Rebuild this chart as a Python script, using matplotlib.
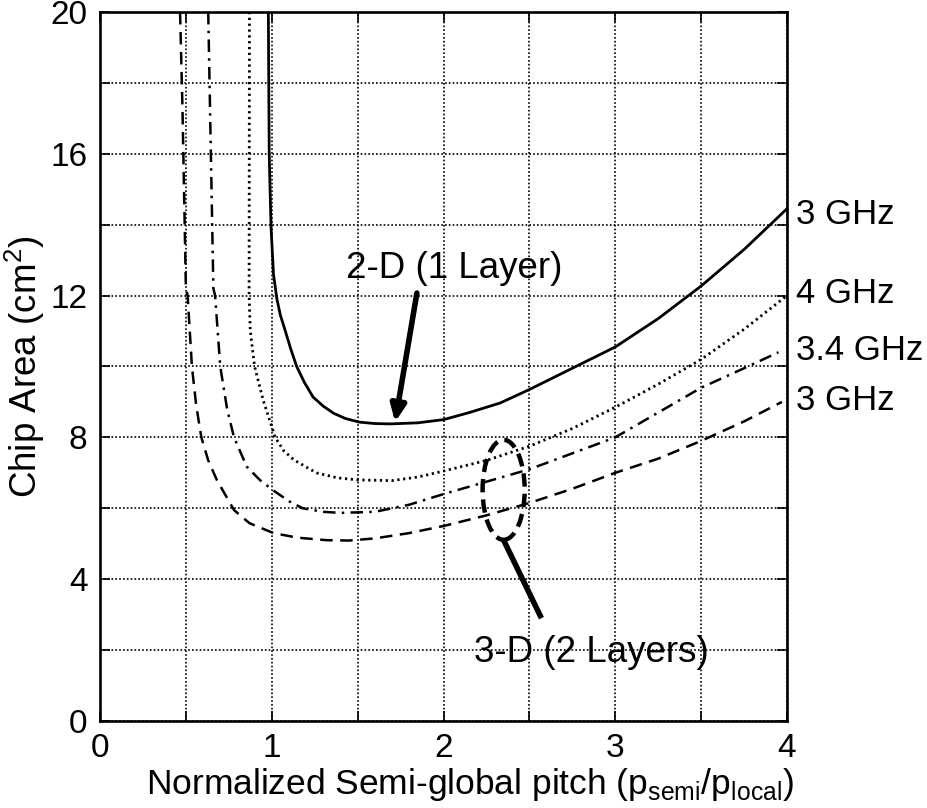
import numpy as np
import matplotlib.pyplot as plt
from matplotlib.patches import Ellipse

plt.rcParams['font.family'] = ['Liberation Sans', 'DejaVu Sans']

# 2-D, 1 layer, 3 GHz (solid)
x_2d_3 = [0.98, 0.985, 0.99, 0.996, 1.01, 1.03, 1.05, 1.077, 1.11, 1.145, 1.19, 1.24, 1.3, 1.36,
          1.43, 1.51, 1.6, 1.69, 1.85, 2.0, 2.15, 2.33, 2.5, 2.75, 3.0, 3.25, 3.5, 3.75, 4.0]
y_2d_3 = [20.0, 16.0, 15.0, 13.9, 12.6, 11.9, 11.45, 11.03, 10.5, 10.0, 9.55, 9.14, 8.88, 8.68,
          8.53, 8.43, 8.39, 8.38, 8.41, 8.5, 8.7, 8.97, 9.35, 9.95, 10.55, 11.35, 12.27, 13.3, 14.45]

# 3-D, 2 layers, 4 GHz (dotted)
x_3d_4 = [0.87, 0.868, 0.875, 0.9, 0.95, 1.02, 1.07, 1.13, 1.26, 1.38, 1.5, 1.7, 1.85, 2.0,
          2.25, 2.5, 2.75, 3.0, 3.25, 3.5, 3.75, 4.0]
y_3d_4 = [20.0, 12.0, 11.0, 10.0, 9.05, 8.0, 7.62, 7.36, 7.0, 6.86, 6.8, 6.78, 6.88, 7.05,
          7.35, 7.75, 8.25, 8.85, 9.5, 10.2, 11.05, 12.0]

# 3-D, 2 layers, 3.4 GHz (dash-dot)
x_3d_34 = [0.63, 0.66, 0.67, 0.70, 0.74, 0.78, 0.855, 0.93, 1.01, 1.1, 1.18, 1.3, 1.4, 1.6,
           1.8, 2.0, 2.25, 2.5, 2.75, 3.0, 3.25, 3.5, 3.75, 3.95]
y_3d_34 = [20.0, 12.2, 12.0, 10.0, 8.8, 8.0, 7.17, 6.8, 6.5, 6.2, 6.0, 5.9, 5.87, 5.9,
           6.1, 6.4, 6.75, 7.1, 7.55, 8.0, 8.7, 9.4, 9.95, 10.4]

# 3-D, 2 layers, 3 GHz (dashed)
x_3d_3 = [0.466, 0.48, 0.50, 0.51, 0.535, 0.56, 0.59, 0.63, 0.68, 0.78, 0.87, 1.01, 1.15,
          1.32, 1.45, 1.6, 1.8, 2.0, 2.25, 2.5, 2.75, 3.0, 3.25, 3.5, 3.75, 3.97]
y_3d_3 = [20.0, 17.3, 12.2, 12.0, 10.0, 8.9, 8.0, 7.35, 6.8, 5.95, 5.58, 5.3, 5.17,
          5.1, 5.09, 5.15, 5.3, 5.5, 5.8, 6.15, 6.55, 7.0, 7.4, 7.9, 8.45, 9.0]

freq_labels = ['3 GHz', '4 GHz', '3.4 GHz', '3 GHz']
freq_label_y = [14.3, 12.05, 10.45, 9.05]

fig = plt.figure(figsize=(9.27, 8.08), dpi=100)
ax = fig.add_axes([0.1079, 0.1077, 0.7411, 0.8775])

lw = 2.0
ax.plot(x_2d_3, y_2d_3, color='black', lw=lw, ls='-')
ax.plot(x_3d_4, y_3d_4, color='black', lw=lw, ls=(0, (0.8, 1.3)))
ax.plot(x_3d_34, y_3d_34, color='black', lw=1.8, ls=(0, (5, 2.5, 1, 2.5)))
ax.plot(x_3d_3, y_3d_3, color='black', lw=1.8, ls=(0, (5, 3)))

ax.set_xlim(0, 4)
ax.set_ylim(0, 20)
xt = np.arange(0, 4.01, 0.5)
yt = np.arange(0, 20.1, 2)
ax.set_xticks(xt)
ax.set_yticks(yt)
ax.set_xticklabels([f'{v:g}' if v == int(v) else '' for v in xt])
ax.set_yticklabels([f'{v:g}' if v % 4 == 0 else '' for v in yt])
ax.tick_params(direction='in', length=7, width=1.2, labelsize=24, top=True, right=True)
ax.tick_params(axis='x', pad=9)
ax.tick_params(axis='y', pad=9)
ax.grid(True, color='black', ls=(0, (1, 1.3)), lw=1.2)
for s in ax.spines.values():
    s.set_linewidth(1.9)

ax.set_xlabel('Normalized Semi-global pitch (p$_{\\mathregular{semi}}$/p$_{\\mathregular{local}}$)',
              fontsize=25.5)
ax.xaxis.set_label_coords(0.539, -0.064)
ax.set_ylabel('Chip Area (cm$^{\\mathregular{2}}$)', fontsize=26.5)
ax.yaxis.set_label_coords(-0.077, 0.5)

# right-hand frequency labels
for lab, yv in zip(freq_labels, freq_label_y):
    ax.text(4.05, yv, lab, fontsize=25, va='center', ha='left', clip_on=False)

# 2-D annotation
ax.annotate('', xy=(1.718, 8.43), xytext=(1.845, 12.07),
            arrowprops=dict(arrowstyle='-|>,head_length=1.0,head_width=0.45',
                            color='black', lw=4.0, shrinkA=0, shrinkB=0))
ax.text(2.06, 12.75, '2-D (1 Layer)', fontsize=26.5, ha='center', va='center')

# 3-D annotation
ax.plot([2.35, 2.57], [5.1, 2.9], color='black', lw=4.0, solid_capstyle='butt')
ax.add_patch(Ellipse((2.35, 6.52), 0.245, 2.82, fill=False, ec='black', lw=3.2,
                     ls=(0, (3, 1.6))))
ax.text(2.86, 1.92, '3-D (2 Layers)', fontsize=26.5, ha='center', va='center')

fig.savefig('out.png', dpi=100)
